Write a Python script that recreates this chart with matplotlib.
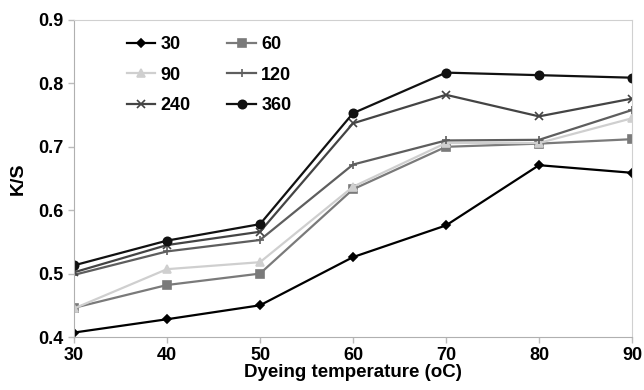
import matplotlib
matplotlib.use("Agg")
import matplotlib.pyplot as plt

plt.rcParams["font.family"] = ["Liberation Sans", "DejaVu Sans"]
plt.rcParams["font.weight"] = "bold"

TEMPERATURES = [30, 40, 50, 60, 70, 80, 90]

KS_30 = [0.407, 0.428, 0.450, 0.526, 0.576, 0.671, 0.659]
KS_60 = [0.446, 0.482, 0.500, 0.633, 0.700, 0.705, 0.712]
KS_90 = [0.445, 0.507, 0.518, 0.637, 0.706, 0.706, 0.745]
KS_120 = [0.498, 0.535, 0.553, 0.672, 0.710, 0.711, 0.758]
KS_240 = [0.502, 0.545, 0.566, 0.737, 0.782, 0.748, 0.776]
KS_360 = [0.513, 0.552, 0.578, 0.753, 0.817, 0.813, 0.809]

SERIES = [
    ("30", KS_30, "#000000", "D", 4),
    ("60", KS_60, "#7a7a7a", "s", 6),
    ("90", KS_90, "#cfcfcf", "^", 6),
    ("120", KS_120, "#5e5e5e", "+", 6),
    ("240", KS_240, "#444444", "x", 6),
    ("360", KS_360, "#111111", "o", 6),
]


def main():
    fig = plt.figure(figsize=(6.44, 3.9), dpi=100)
    ax = fig.add_axes([74 / 644, 1 - 337 / 390, 558 / 644, 317 / 390])

    handles = {}
    for label, values, color, marker, size in SERIES:
        (line,) = ax.plot(TEMPERATURES, values, color=color, marker=marker, markersize=size,
                          linewidth=1.6, label=label, markeredgewidth=1.2)
        handles[label] = line

    ax.set_xlim(30, 90)
    ax.set_ylim(0.4, 0.9)
    ax.set_xticks(TEMPERATURES)
    ax.set_yticks([0.4, 0.5, 0.6, 0.7, 0.8, 0.9])
    ax.set_yticklabels(["0.4", "0.5", "0.6", "0.7", "0.8", "0.9"])
    ax.tick_params(labelsize=13, length=4, color="#bbbbbb", width=1)
    ax.tick_params(axis="x", pad=3)

    for side in ["top", "right"]:
        ax.spines[side].set_color("#d0d0d0")
    for side in ["left", "bottom"]:
        ax.spines[side].set_color("#b0b0b0")

    ax.set_xlabel("Dyeing temperature (oC)", fontsize=13.5, fontweight="bold", labelpad=0)
    ax.set_ylabel("K/S", fontsize=14, fontweight="bold", labelpad=8)

    # legend is read row by row in the reference, matplotlib fills columns first
    order = ["30", "90", "240", "60", "120", "360"]
    ax.legend([handles[k] for k in order], order, ncol=2, frameon=False,
              loc="upper left", bbox_to_anchor=(0.065, 1.0),
              handlelength=1.6, handletextpad=0.3, columnspacing=2.0,
              labelspacing=0.75, prop={"weight": "bold", "size": 13})

    fig.savefig("out.png", dpi=100)
    plt.close(fig)


if __name__ == "__main__":
    main()
